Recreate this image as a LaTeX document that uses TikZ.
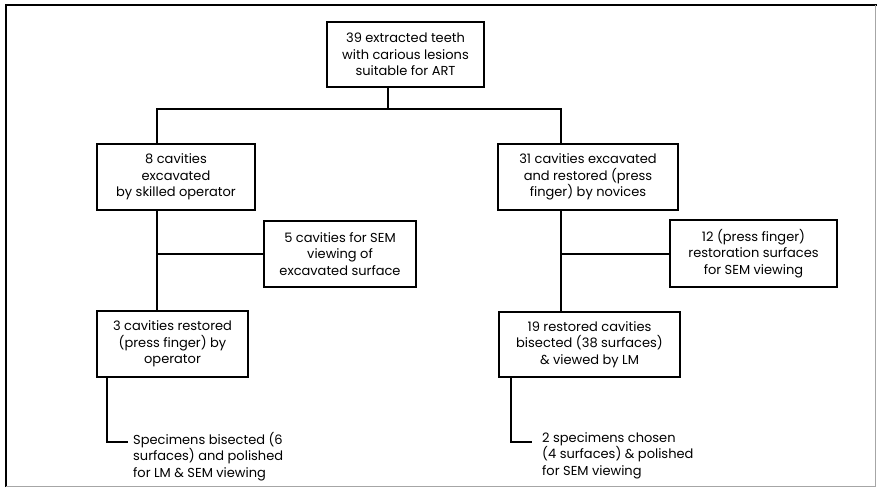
\documentclass[tikz,border=0pt]{standalone}
\usepackage{fontspec}
\setmainfont{Poppins}
\usetikzlibrary{calc}
\tikzset{
box/.style={draw,line width=1.3pt,align=center,inner sep=0pt,font=\fontsize{13}{16.5}\selectfont},
nota/.style={align=left,inner sep=0pt,anchor=north west,font=\fontsize{13}{16.5}\selectfont},
linea/.style={line width=1.3pt},
cornice/.style={line width=1.8pt}}

\begin{document}
\begin{tikzpicture}[x=1pt,y=-1pt]

\useasboundingbox (0,0) rectangle (877,487);
\draw[cornice] (6,487) -- (6,5) -- (877,5);
\draw[line width=0.8pt,black!35] (875,5) -- (875,486) -- (6,486);

\node[box,minimum width=157pt,minimum height=65pt] (teeth) at (405.5,54.5)
  {39 extracted teeth\\with carious lesions\\suitable for ART};
\node[box,minimum width=158pt,minimum height=66pt] (skilled) at (176,177)
  {8 cavities\\excavated\\by skilled operator};
\node[box,minimum width=180pt,minimum height=66pt] (novices) at (588,177)
  {31 cavities excavated\\and restored (press\\finger) by novices};
\node[box,minimum width=152pt,minimum height=66pt] (semexc) at (340,254)
  {5 cavities for SEM\\viewing of\\excavated surface};
\node[box,minimum width=167pt,minimum height=67pt] (semres) at (753.5,253.5)
  {12 (press finger)\\restoration surfaces\\for SEM viewing};
\node[box,minimum width=151pt,minimum height=66pt] (restored) at (172.5,344)
  {3 cavities restored\\(press finger) by\\operator};
\node[box,minimum width=181pt,minimum height=65pt] (lm) at (589.5,344.5)
  {19 restored cavities\\bisected (38 surfaces)\\\& viewed by LM};
\node[nota] (spec) at (133,432)
  {Specimens bisected (6\\surfaces) and polished\\for LM \& SEM viewing};
\node[nota] (chosen) at (542,432)
  {2 specimens chosen\\(4 surfaces) \& polished\\for SEM viewing};

\coordinate (split) at (388,109);
\coordinate (lstem) at (157,109);
\coordinate (rstem) at (561,109);
\coordinate (lfoot) at (107,442);
\coordinate (rfoot) at (511,442);

% tronco principale
\draw[linea] (teeth.south -| split) -- (split);
\draw[linea] (skilled.north -| lstem) -- (lstem) -- (rstem) -- (novices.north -| rstem);

% ramo sinistro
\draw[linea] (skilled.south -| lstem) -- (restored.north -| lstem);
\draw[linea] (semexc.west -| lstem) -- (semexc.west);
\draw[linea] (restored.south -| lfoot) -- (lfoot) -- ($(spec.west |- lfoot)+(-5,0)$);

% ramo destro
\draw[linea] (novices.south -| rstem) -- (lm.north -| rstem);
\draw[linea] ($(semres.west -| rstem)+(0,0.5)$) -- ($(semres.west)+(0,0.5)$);
\draw[linea] (lm.south -| rfoot) -- (rfoot) -- ($(chosen.west |- rfoot)+(-10,0)$);

\end{tikzpicture}
\end{document}
